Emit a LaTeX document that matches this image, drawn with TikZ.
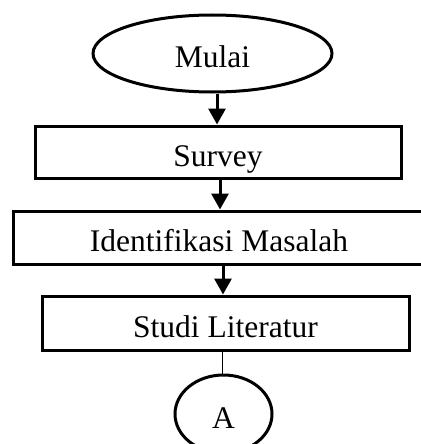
\documentclass[tikz,border=0pt]{standalone}
\usepackage{fontspec}
\setmainfont{Liberation Serif}
\usetikzlibrary{shapes.geometric,arrows.meta}

\begin{document}
\begin{tikzpicture}[x=1pt,y=-1pt,line width=3pt,
    font=\fontsize{31.5}{36}\selectfont,
    term/.style={ellipse,draw,inner sep=0pt,text height=28pt,text depth=0pt},
    proc/.style={rectangle,draw,inner sep=0pt,minimum height=53pt,text height=28pt,text depth=0pt},
    arr/.style={-{Triangle[width=17pt,length=16pt]}}]
      \useasboundingbox (0,0) rectangle (420,444);

      \node[term,minimum width=239pt,minimum height=77pt] (mulai)  at (212.5,53.5) {Mulai};
      \node[proc,minimum width=366pt,minimum height=52pt] (survei) at (218,152)    {Survey};
      \node[proc,minimum width=412pt] (ident)  at (219,237.5)  {Identifikasi Masalah};
      \node[proc,minimum width=367pt,minimum height=54pt] (studi)  at (225.5,323)  {Studi Literatur};
      \node[term,minimum width=97pt,minimum height=78pt]  (a)      at (223.5,414)  {A};

      \draw[arr] ([xshift=4.5pt]mulai.south) -- ([xshift=4.5pt]mulai.south |- survei.north);
      \draw[arr] ([xshift=2pt]survei.south)  -- ([xshift=2pt]survei.south |- ident.north);
      \draw[arr] ([xshift=4pt]ident.south)   -- ([xshift=4pt]ident.south |- studi.north);
      \draw[line width=1.4pt] ([xshift=-3pt]studi.south) -- ([xshift=-3pt]studi.south |- a.north);
    \end{tikzpicture}
\end{document}
